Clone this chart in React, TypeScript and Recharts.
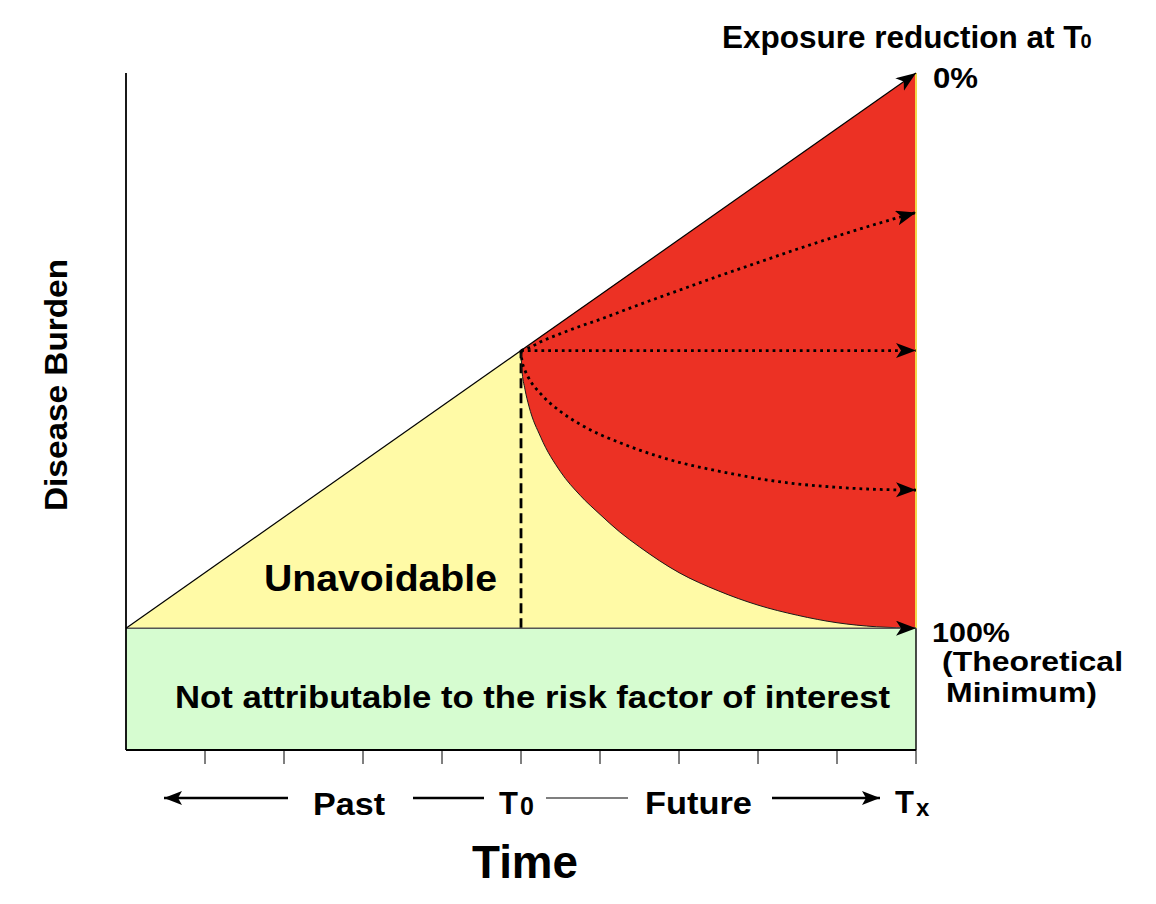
import React from 'react';
import { ComposedChart, Area, Line, XAxis, YAxis, ReferenceLine } from 'recharts';

// time runs 0..10 (T0 = 5, Tx = 10), burden runs 0..100 on the hidden y scale
const timeTicks = [1, 2, 3, 4, 5, 6, 7, 8, 9, 10];
const minimumLevel = 18;

// rising burden up to T0 and on to Tx if nothing changes
const trendX = [0, 5, 10];
const trendY = [18, 59, 100];

// future paths after T0
const futureX = [5, 5.01, 5.05, 5.1, 5.25, 5.5, 5.75, 6, 6.25, 6.5, 7, 7.5, 8, 8.5, 9, 9.5, 10];
const noReduction = [59, 59.1, 59.4, 59.8, 61.1, 63.1, 65.2, 67.2, 69.3, 71.3, 75.4, 79.5, 83.6, 87.7, 91.8, 95.9, 100];
const reduction25 = [59, 59.04, 59.2, 59.4, 60.3, 61.5, 62.6, 63.6, 64.7, 65.8, 67.9, 70.0, 72.0, 74.0, 75.9, 77.7, 79.4];
const reduction75 = [59, 57.7, 56.1, 54.9, 52.6, 50.0, 48.1, 46.6, 45.4, 44.3, 42.5, 41.2, 40.1, 39.3, 38.8, 38.5, 38.4];
const fullReduction = [59, 56.4, 53.3, 50.8, 46.2, 41.1, 37.6, 34.8, 32.2, 30.0, 26.2, 23.5, 21.4, 19.9, 18.8, 18.2, 18];

const halfReductionX = [5, 10];
const halfReduction = [59, 59];

const floorX = [0, 10];
const floorY = [18, 18];

const trendRows = trendX.map((x, i) => ({ x, burden: trendY[i], base: minimumLevel }));
const futureRows = futureX.map((x, i) => ({
  x,
  top: noReduction[i],
  r25: reduction25[i],
  r75: reduction75[i],
  low: fullReduction[i],
}));
const halfRows = halfReductionX.map((x, i) => ({ x, burden: halfReduction[i] }));
const floorRows = floorX.map((x, i) => ({ x, burden: floorY[i] }));

const dotted = {
  stroke: '#000',
  strokeWidth: 2.8,
  strokeDasharray: '2.8 4',
  dot: false,
  activeDot: false,
  isAnimationActive: false,
  markerEnd: 'url(#arrowhead)',
};

// keep the tick marks, drop the numbers
const NoLabel = () => <g />;

export default function App() {
  return (
    <div style={{ position: 'absolute', left: 0, top: 0, width: 1156, height: 904, background: '#fff' }}>
      <svg width={0} height={0} style={{ position: 'absolute' }}>
        <defs>
          <marker id="arrowhead" markerUnits="userSpaceOnUse" markerWidth={22} markerHeight={16}
            refX={20} refY={7.5} orient="auto">
            <path d="M0,0 L20,7.5 L0,15 L5,7.5 Z" fill="#000" />
          </marker>
          <marker id="smallArrow" markerUnits="userSpaceOnUse" markerWidth={20} markerHeight={16}
            refX={18} refY={7} orient="auto">
            <path d="M0,0 L18,7 L0,14 L4,7 Z" fill="#000" />
          </marker>
        </defs>
      </svg>

      <ComposedChart width={1156} height={904} margin={{ top: 73, right: 240, bottom: 134, left: 106 }}>
        <XAxis
          type="number"
          dataKey="x"
          domain={[0, 10]}
          ticks={timeTicks}
          tick={NoLabel}
          tickSize={14}
          tickLine={{ stroke: '#000', strokeWidth: 1 }}
          axisLine={{ stroke: '#000', strokeWidth: 1.8 }}
          height={20}
        />
        <YAxis
          type="number"
          domain={[0, 100]}
          tick={false}
          tickLine={false}
          axisLine={{ stroke: '#000', strokeWidth: 1.8 }}
          width={20}
        />

        <Area data={floorRows} dataKey="burden" type="linear" fill="#d6fcd0" fillOpacity={1}
          stroke="none" isAnimationActive={false} />
        <Area data={trendRows} dataKey={(d: any) => [d.base, d.burden]} type="linear" fill="#fffaa6"
          fillOpacity={1} stroke="none" isAnimationActive={false} />
        <Area data={futureRows} dataKey={(d: any) => [d.low, d.top]} type="monotone" fill="#ec3124"
          fillOpacity={1} stroke="none" isAnimationActive={false} />

        <ReferenceLine segment={[{ x: 10, y: minimumLevel }, { x: 10, y: 100 }]} stroke="#f2d64a" strokeWidth={2} />
        <ReferenceLine segment={[{ x: 10, y: 0 }, { x: 10, y: minimumLevel }]} stroke="#111" strokeWidth={1.5} />
        <ReferenceLine segment={[{ x: trendX[1], y: minimumLevel }, { x: trendX[1], y: trendY[1] }]}
          stroke="#000" strokeWidth={2.8} strokeDasharray="10 5" />

        <Line data={futureRows} dataKey="low" type="monotone" stroke="#1a1a1a" strokeWidth={1}
          dot={false} activeDot={false} isAnimationActive={false} />
        <Line data={floorRows} dataKey="burden" type="linear" stroke="#555" strokeWidth={1.5}
          dot={false} activeDot={false} isAnimationActive={false} markerEnd="url(#arrowhead)" />
        <Line data={trendRows} dataKey="burden" type="linear" stroke="#000" strokeWidth={1.2}
          dot={false} activeDot={false} isAnimationActive={false} markerEnd="url(#arrowhead)" />
        <Line data={futureRows} dataKey="r25" type="monotone" {...dotted} />
        <Line data={halfRows} dataKey="burden" type="linear" {...dotted} />
        <Line data={futureRows} dataKey="r75" type="monotone" {...dotted} />
      </ComposedChart>

      <svg width={1156} height={904}
        style={{ position: 'absolute', left: 0, top: 0, pointerEvents: 'none' }}
        fontFamily="'Liberation Sans', Arial, sans-serif" fontWeight="bold" fill="#000">
        <text transform="translate(67,385) rotate(-90)" textAnchor="middle" fontSize={32}
          textLength={252} lengthAdjust="spacingAndGlyphs">Disease Burden</text>

        <text x={722} y={48} fontSize={31.5}>Exposure reduction at T<tspan fontSize={20} dx={-2}>0</tspan></text>
        <text x={933} y={88} fontSize={30} textLength={45} lengthAdjust="spacingAndGlyphs">0%</text>
        <text x={932} y={642} fontSize={28} textLength={78} lengthAdjust="spacingAndGlyphs">100%</text>
        <text x={942} y={671} fontSize={28} textLength={181} lengthAdjust="spacingAndGlyphs">(Theoretical</text>
        <text x={946} y={702} fontSize={28} textLength={151} lengthAdjust="spacingAndGlyphs">Minimum)</text>

        <text x={264} y={591} fontSize={36} textLength={233} lengthAdjust="spacingAndGlyphs">Unavoidable</text>
        <text x={175} y={708} fontSize={31} textLength={715} lengthAdjust="spacingAndGlyphs">
          Not attributable to the risk factor of interest
        </text>

        <line x1={288} y1={798} x2={164} y2={798} stroke="#000" strokeWidth={2.4} markerEnd="url(#smallArrow)" />
        <text x={313} y={815} fontSize={31} textLength={72} lengthAdjust="spacingAndGlyphs">Past</text>
        <line x1={413} y1={798} x2={484} y2={798} stroke="#000" strokeWidth={2.4} />
        <text x={499} y={814} fontSize={31}>T<tspan fontSize={25} dx={2} dy={1}>0</tspan></text>
        <line x1={546} y1={798} x2={628} y2={798} stroke="#000" strokeWidth={1.2} />
        <text x={645} y={814} fontSize={31} textLength={107} lengthAdjust="spacingAndGlyphs">Future</text>
        <line x1={772} y1={798} x2={880} y2={798} stroke="#000" strokeWidth={2.4} markerEnd="url(#smallArrow)" />
        <text x={895} y={813} fontSize={31}>T<tspan fontSize={24} dx={2} dy={3}>x</tspan></text>

        <text x={472} y={878} fontSize={46} textLength={106} lengthAdjust="spacingAndGlyphs">Time</text>
      </svg>
    </div>
  );
}
